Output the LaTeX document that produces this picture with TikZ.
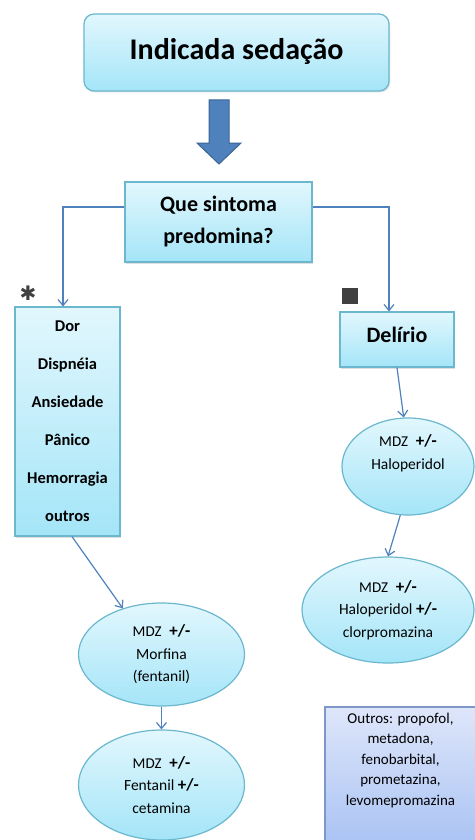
\documentclass[tikz,border=0pt]{standalone}
\usepackage{fontspec}
\setmainfont{Carlito}
\newfontfamily\symfont{DejaVu Sans}
\usetikzlibrary{shapes.geometric, arrows.meta, shadows}
\definecolor{boxtop}{HTML}{E2F7FD}
\definecolor{boxbot}{HTML}{A4E5F8}
\definecolor{boxline}{HTML}{6AB7CE}
\definecolor{flow}{HTML}{4F81BD}
\definecolor{flowdark}{HTML}{3A6595}
\definecolor{othtop}{HTML}{DEE6FA}
\definecolor{othbot}{HTML}{A7C1F3}
\definecolor{othline}{HTML}{7D97C8}
\definecolor{markgray}{HTML}{404040}
\newcommand{\plusmin}{\textbf{\fontsize{17}{22.5}\selectfont+/-}}
\newcommand{\mdzpm}{{\fontsize{15}{22.5}\selectfont MDZ}\enspace\plusmin}

\begin{document}
\begin{tikzpicture}[x=1pt,y=-1pt,
  box/.style={draw=boxline,line width=1.2pt,top color=boxtop,bottom color=boxbot,align=center,inner sep=0pt,
    drop shadow={shadow xshift=1.2pt,shadow yshift=-1.5pt,opacity=0.25}},
  oval/.style={draw=boxline,line width=1.2pt,ellipse,top color=boxtop,bottom color=boxbot,align=center,inner sep=0pt,
    font=\fontsize{15.5}{22.5}\selectfont},
  conn/.style={draw=flow,line width=1.2pt,-{Straight Barb[length=6pt,width=10pt]}},
  bigarrow/.style={draw=flowdark,fill=flow,line width=1pt,line join=miter}
]
  \useasboundingbox (0,0) rectangle (474,840);
  % upper part
  \node[box,rounded corners=10pt,minimum width=305pt,minimum height=77pt,text depth=8pt,font=\fontsize{30}{36}\selectfont\bfseries] (top) at (236.5,52.5) {Indicada sedação};
  \coordinate (go) at (219,100);
  \draw[bigarrow] ([xshift=-10pt]go) -- ++(20,0) -- ++(0,43) -- ++(12,0) -- ++(-22,21) -- ++(-22,-21) -- ++(12,0) -- cycle;
  \node[box,minimum width=187pt,minimum height=80pt,font=\fontsize{22}{32}\selectfont\bfseries] (ask) at (218.5,222) {Que sintoma\\predomina?};
  % symptoms
  \node[box,minimum width=105pt,minimum height=229pt,font=\fontsize{16.5}{38}\selectfont\bfseries] (symp) at (67.5,421.5) {Dor\\Dispnéia\\Ansiedade\\Pânico\\Hemorragia\\outros};
  \node[box,minimum width=114pt,minimum height=55pt,text depth=10pt,font=\fontsize{22}{26}\selectfont\bfseries] (del) at (397,339.5) {Delírio};
  \node[inner sep=0pt,text=markgray,font=\symfont\fontsize{20}{20}\selectfont] (ast) at (28,293) {✱};
  \node[fill=markgray,minimum size=16pt,inner sep=0pt] (sq) at (350,296) {};
  % drugs
  \node[oval,minimum width=132pt,minimum height=97pt] (halo) at (408,466.5) {\mdzpm\\Haloperidol\\[6pt]};
  \node[oval,minimum width=172pt,minimum height=106pt] (chlor) at (388,610) {\mdzpm\\Haloperidol \plusmin\\clorpromazina};
  \node[oval,minimum width=166pt,minimum height=103pt] (morf) at (161.5,654.5) {\mdzpm\\Morfina\\(fentanil)};
  \node[oval,minimum width=166pt,minimum height=110pt] (fent) at (161.5,785) {\mdzpm\\Fentanil \plusmin\\cetamina};
  \node[draw=othline,line width=1.2pt,top color=othtop,bottom color=othbot,inner sep=0pt,font=\fontsize{15}{20.5}\selectfont] (other) at (400.5,779.5)
    {\parbox[c][145pt][t]{151pt}{\centering\rule{0pt}{16pt}Outros: propofol,\\metadona,\\fenobarbital,\\prometazina,\\levomepromazina}};
  % connectors
  \draw[conn] ([yshift=15pt]ask.west) -| ([xshift=-4.5pt]symp.north);
  \draw[conn] ([yshift=15pt]ask.east) -| ([xshift=-8pt]del.north);
  \draw[conn] ([xshift=4.5pt]symp.south) -- (morf.130);
  \draw[conn] (morf.south) -- (fent.north);
  \draw[conn] (del.south) -- (halo.95);
  \draw[conn] (halo.261) -- (chlor.north);
\end{tikzpicture}
\end{document}
